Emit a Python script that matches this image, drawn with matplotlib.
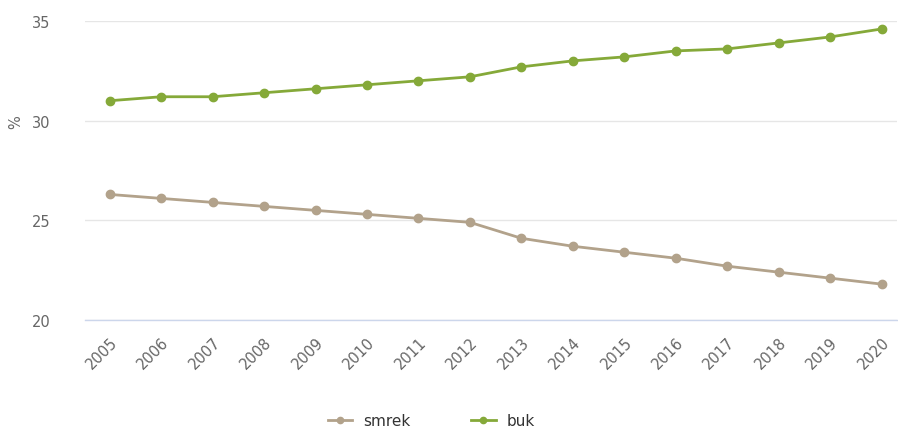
import matplotlib
matplotlib.use("Agg")
import matplotlib.pyplot as plt

years = list(range(2005, 2021))
smrek = [26.3, 26.1, 25.9, 25.7, 25.5, 25.3, 25.1, 24.9, 24.1, 23.7, 23.4, 23.1, 22.7, 22.4, 22.1, 21.8]
buk = [31.0, 31.2, 31.2, 31.4, 31.6, 31.8, 32.0, 32.2, 32.7, 33.0, 33.2, 33.5, 33.6, 33.9, 34.2, 34.6]
y_ticks = [20, 25, 30, 35]
series_names = ["smrek", "buk"]
colors = ["#b2a28b", "#85a939"]

plt.rcParams['font.family'] = ['DejaVu Sans']
fig = plt.figure(figsize=(8.98, 4.31), dpi=100)
ax = fig.add_axes([85/898, 1-321/431, 812/898, 299/431])

for vals, name, c in zip([smrek, buk], series_names, colors):
    ax.plot(years, vals, color=c, lw=2, marker='o', markersize=6, label=name, zorder=3)

ax.set_ylim(20, 35)
ax.set_xlim(2004.52, 2020.30)
ax.set_yticks(y_ticks)
ax.set_xticks(years)
ax.set_xticklabels([str(y) for y in years], rotation=45, ha='right', rotation_mode='anchor')
ax.tick_params(axis='x', length=0, pad=10, labelsize=10.5, labelcolor='#666666')
ax.tick_params(axis='y', length=0, pad=25, labelsize=10.5, labelcolor='#666666')
for lbl in ax.get_xticklabels():
    lbl.set_x(lbl.get_position()[0])
ax.grid(axis='y', color='#e6e6e6', lw=1)
ax.set_axisbelow(True)
for s in ['top', 'right', 'left']:
    ax.spines[s].set_visible(False)
ax.spines['bottom'].set_color('#ccd6eb')
ax.spines['bottom'].set_linewidth(1)
ax.set_ylabel('%', color='#666666', fontsize=10.5)
ax.yaxis.set_label_coords(-62/812, (321-122)/299)

leg = fig.legend(loc='center', bbox_to_anchor=(431/898, 1-422/431), ncol=2, frameon=False,
                 fontsize=11, handlelength=1.6, columnspacing=4.0, handletextpad=0.7, markerscale=0.75)
for t in leg.get_texts():
    t.set_color('#333333')

fig.savefig('out.png', dpi=100)
